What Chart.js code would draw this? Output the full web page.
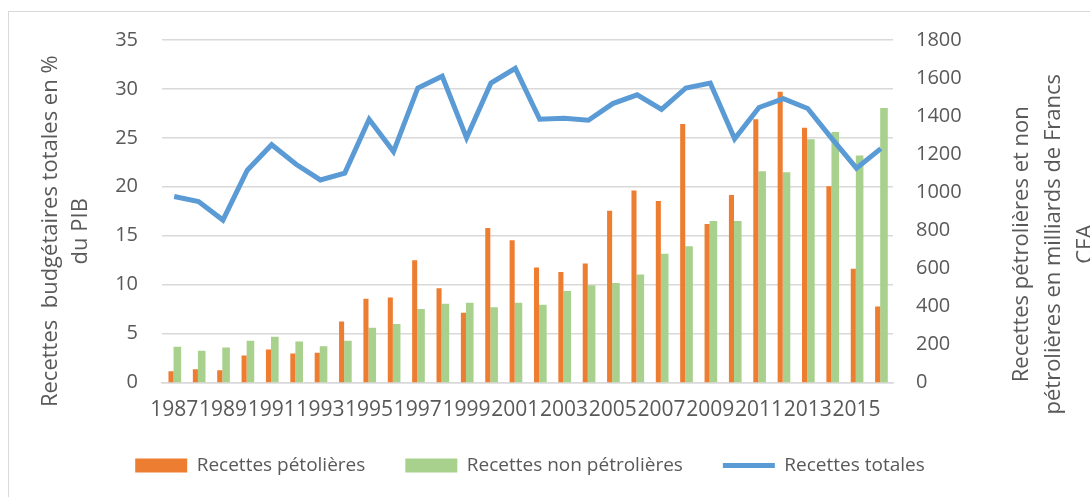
<!DOCTYPE html>
<html>
<head>
<meta charset="utf-8">
<script src="https://cdn.jsdelivr.net/npm/chart.js@4"></script>
<style>
  body { margin: 0; background: #fff; }
  #wrap { position: relative; width: 1090px; height: 497px; overflow: hidden; }
  #frame { position: absolute; left: 8px; top: 11px; width: 1200px; height: 600px; border: 1px solid #d9d9d9; }
  canvas { position: absolute; left: 0; top: 0; }
</style>
</head>
<body>
<div id="wrap">
  <div id="frame"></div>
  <canvas id="chart-recettes" width="1090" height="497"></canvas>
</div>
<script>
Chart.defaults.color = "#595959";
Chart.defaults.font.family = "'Open Sans', sans-serif";
Chart.defaults.font.size = 19;

var years = ["1987", "1988", "1989", "1990", "1991", "1992", "1993", "1994", "1995", "1996",
  "1997", "1998", "1999", "2000", "2001", "2002", "2003", "2004", "2005", "2006",
  "2007", "2008", "2009", "2010", "2011", "2012", "2013", "2014", "2015", "2016"];

// milliards de Francs CFA (axe de droite)
var petrolieres = [59, 70, 65, 142, 174, 153, 156, 321, 440, 447,
  642, 495, 367, 812, 747, 605, 581, 625, 903, 1009,
  954, 1358, 833, 986, 1383, 1528, 1339, 1032, 598, 400];
var nonPetrolieres = [188, 167, 184, 219, 240, 216, 191, 219, 288, 307,
  386, 414, 419, 395, 419, 409, 481, 511, 523, 568,
  677, 716, 849, 849, 1110, 1105, 1279, 1316, 1193, 1442];

// % du PIB (axe de gauche)
var totales = [19.0, 18.5, 16.6, 21.7, 24.3, 22.3, 20.7, 21.4, 26.9, 23.6,
  30.1, 31.3, 25.0, 30.6, 32.1, 26.9, 27.0, 26.8, 28.5, 29.4,
  27.9, 30.1, 30.6, 24.9, 28.1, 29.0, 28.0, 24.9, 21.9, 23.9];

var leftTitle = ["Recettes  budgétaires totales en %", "du PIB"];
var rightTitle = ["Recettes pétrolières et non", "pétrolières en milliards de Francs", "CFA"];

// axis titles drawn by hand so they sit like the original (right one runs off the edge)
var axisTitles = {
  id: "axisTitles",
  afterDraw(chart) {
    var ctx = chart.ctx;
    var area = chart.chartArea;
    var mid = (area.top + area.bottom) / 2;
    ctx.save();
    ctx.font = "22px 'Open Sans'";
    ctx.fillStyle = "#595959";
    ctx.textAlign = "center";
    ctx.textBaseline = "alphabetic";
    leftTitle.forEach(function (line, i) {
      ctx.save();
      ctx.translate(area.left - 105 + i * 30, mid + 20);
      ctx.rotate(-Math.PI / 2);
      ctx.fillText(line, 0, 0);
      ctx.restore();
    });
    rightTitle.forEach(function (line, i) {
      ctx.save();
      ctx.translate(area.right + 135 + i * 32, mid + 33);
      ctx.rotate(-Math.PI / 2);
      ctx.fillText(line, 0, 0);
      ctx.restore();
    });
    ctx.restore();
  },
};

var recettesData = {
  labels: years,
  datasets: [
    {
      type: "bar",
      label: "Recettes pétolières",
      data: petrolieres,
      backgroundColor: "#ED7D31",
      yAxisID: "y1",
      barPercentage: 0.8,
      categoryPercentage: 0.52,
      pointStyle: "rect",
      order: 1,
    },
    {
      type: "bar",
      label: "Recettes non pétrolières",
      data: nonPetrolieres,
      backgroundColor: "#A9D18E",
      yAxisID: "y1",
      barPercentage: 1.2,
      categoryPercentage: 0.52,
      pointStyle: "rect",
      order: 2,
    },
    {
      type: "line",
      label: "Recettes totales",
      data: totales,
      borderColor: "#5B9BD5",
      backgroundColor: "#5B9BD5",
      borderWidth: 5,
      pointRadius: 0,
      pointStyle: "line",
      tension: 0,
      yAxisID: "y",
      order: 0,
    },
  ],
};

var recettesOptions = {
  responsive: false,
  animation: false,
  layout: {
    padding: { top: 40, left: 0, right: 30, bottom: 12 },
  },
  plugins: {
    legend: {
      position: "bottom",
      labels: {
        usePointStyle: true,
        pointStyleWidth: 52,
        boxHeight: 14,
        padding: 40,
        color: "#595959",
        font: { size: 19 },
        sort: function (a, b) { return a.datasetIndex - b.datasetIndex; },
      },
    },
    tooltip: { enabled: false },
  },
  scales: {
    x: {
      grid: { display: false, drawTicks: false },
      border: { color: "#D9D9D9", width: 1.5 },
      ticks: {
        autoSkip: false,
        maxRotation: 0,
        padding: 15,
        font: { size: 21 },
        callback: function (value, index) {
          return index % 2 === 0 ? years[index] : "";
        },
      },
      afterFit: function (scale) { scale.height = 33.5; },
    },
    y: {
      position: "left",
      min: 0,
      max: 35,
      ticks: { stepSize: 5, padding: 24, font: { size: 20 } },
      grid: { color: "#D9D9D9", lineWidth: 1.5, drawTicks: false },
      border: { display: false },
      afterFit: function (scale) { scale.width = 162; },
    },
    y1: {
      position: "right",
      min: 0,
      max: 1800,
      ticks: {
        stepSize: 200,
        padding: 23,
        font: { size: 20 },
        callback: function (value) { return String(value); },
      },
      grid: { display: false, drawTicks: false },
      border: { display: false },
      afterFit: function (scale) { scale.width = 167; },
    },
  },
};

new Chart("chart-recettes", {
  data: recettesData,
  options: recettesOptions,
  plugins: [axisTitles],
});
</script>
</body>
</html>
